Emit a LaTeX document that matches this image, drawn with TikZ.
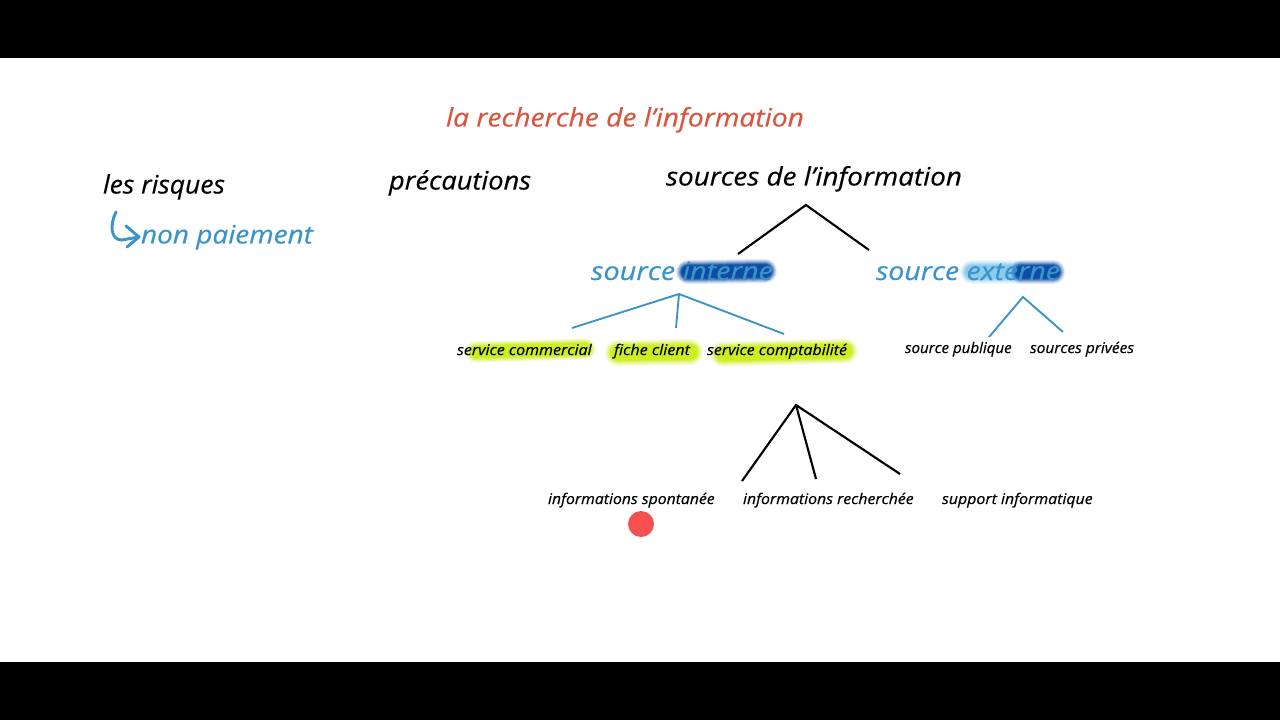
\documentclass[tikz,border=0pt]{standalone}
\usepackage{fontspec}
\usepackage{graphicx}
\setmainfont{Open Sans}
\definecolor{titlered}{HTML}{D8553F}
\definecolor{skyb}{HTML}{3A94C8}
\definecolor{deepb}{HTML}{0C4DA6}
\definecolor{paleb}{HTML}{8CCBF0}
\definecolor{hlyellow}{HTML}{CFEE1E}
\definecolor{dotred}{HTML}{F65050}
\newcommand\fitw[3]{\resizebox{#1}{\height}{\fontsize{#2}{#2}\selectfont\itshape\addfontfeature{FakeBold=0.35}#3}}
\newcommand\soft[3]{% colour, width(px), path
  \foreach \w/\o in {1.2/0.12,1.1/0.15,1.0/0.2,0.9/0.3,0.8/0.5,0.7/0.8,0.6/1}{\draw[#1,line width=#2*0.75pt*\w,opacity=\o,line cap=round] #3;}}
\tikzset{
  lab/.style={anchor=base west,inner sep=0pt,outer sep=0pt},
  bigtxt/.style={lab,text=black},
  smalltxt/.style={lab,text=black},
  bluetxt/.style={lab,text=skyb},
  blackline/.style={draw=black,line width=1.6pt,line join=miter},
  blueline/.style={draw=skyb,line width=1.4pt,line join=miter},
}
\begin{document}
\begin{tikzpicture}[x=0.75pt,y=-0.75pt]
\useasboundingbox (0,0) rectangle (1280,720);
\fill[white] (0,0) rectangle (1280,720);
\fill[black] (0,0) rectangle (1280,58);
\fill[black] (0,662) rectangle (1280,720);
% highlights
\soft{deepb}{20}{(688,272) -- (765,271)}
\soft{paleb}{20}{(972,272) -- (1015,272)}
\soft{deepb}{20}{(1022,272) -- (1053,272)}
\soft{hlyellow}{18}{(476,352) -- (585,349)}
\soft{hlyellow}{22}{(618,353) -- (690,352)}
\soft{hlyellow}{21}{(723,354) -- (845,351)}
% texts
\node[lab,text=titlered] (title) at (446,126.5) {\fitw{268.5pt}{19pt}{la recherche de l'information}};
\node[bigtxt] (risques) at (103,193.5) {\fitw{91.5pt}{19pt}{les risques}};
\node[bluetxt] (paiement) at (141,243.5) {\fitw{129pt}{19pt}{non paiement}};
\node[bigtxt] (precautions) at (389,189.5) {\fitw{106.5pt}{19pt}{précautions}};
\node[bigtxt] (sources) at (666,185.5) {\fitw{222pt}{19pt}{sources de l'information}};
\node[bluetxt] (interne) at (591,280) {\fitw{136.5pt}{19pt}{source interne}};
\node[bluetxt] (externe) at (876,280) {\fitw{138pt}{19pt}{source externe}};
\node[smalltxt] (commercial) at (457,355) {\fitw{101pt}{11pt}{service commercial}};
\node[smalltxt] (fiche) at (614,355) {\fitw{57pt}{11pt}{fiche client}};
\node[smalltxt] (compta) at (707,355) {\fitw{105pt}{11pt}{service comptabilité}};
\node[smalltxt] (publique) at (905,353) {\fitw{80pt}{11pt}{source publique}};
\node[smalltxt] (privees) at (1030,353) {\fitw{78pt}{11pt}{sources privées}};
\node[smalltxt] (spontanee) at (548,504) {\fitw{125pt}{11pt}{informations spontanée}};
\node[smalltxt] (recherchee) at (743,504) {\fitw{128pt}{11pt}{informations recherchée}};
\node[smalltxt] (support) at (942,504) {\fitw{113pt}{11pt}{support informatique}};
% dot
\node[circle,fill=dotred,minimum size=19.5pt,inner sep=0pt] (dot) at (641,524) {};
% connector ends
\coordinate (a1) at (806,205); \coordinate (a1l) at (738,254); \coordinate (a1r) at (869,250);
\coordinate (a2) at (679,294); \coordinate (a2l) at (572,328); \coordinate (a2m) at (676,328); \coordinate (a2r) at (784,334);
\coordinate (a3) at (1023,297); \coordinate (a3l) at (989,337); \coordinate (a3r) at (1063,332);
\coordinate (a4) at (796,405); \coordinate (a4l) at (742,481); \coordinate (a4m) at (816,479); \coordinate (a4r) at (900,474);
\draw[blackline] (a1l) -- (a1) -- (a1r);
\draw[blueline] (a2l) -- (a2) -- (a2r);
\draw[blueline] (a2) -- (a2m);
\draw[blueline] (a3l) -- (a3) -- (a3r);
\draw[blackline] (a4l) -- (a4) -- (a4r);
\draw[blackline] (a4) -- (a4m);
% hook arrow
\coordinate (h0) at (116,212); \coordinate (h1) at (139,237);
\coordinate (c1) at (126,226); \coordinate (c2) at (127,247);
\draw[draw=skyb,line width=2.2pt,line cap=round,line join=round] (h0) .. controls (110,224) and (110,240) .. (122,240) -- (h1);
\draw[draw=skyb,line width=2.2pt,line cap=round,line join=round] (c1) -- (h1) -- (c2);
\end{tikzpicture}
\end{document}
